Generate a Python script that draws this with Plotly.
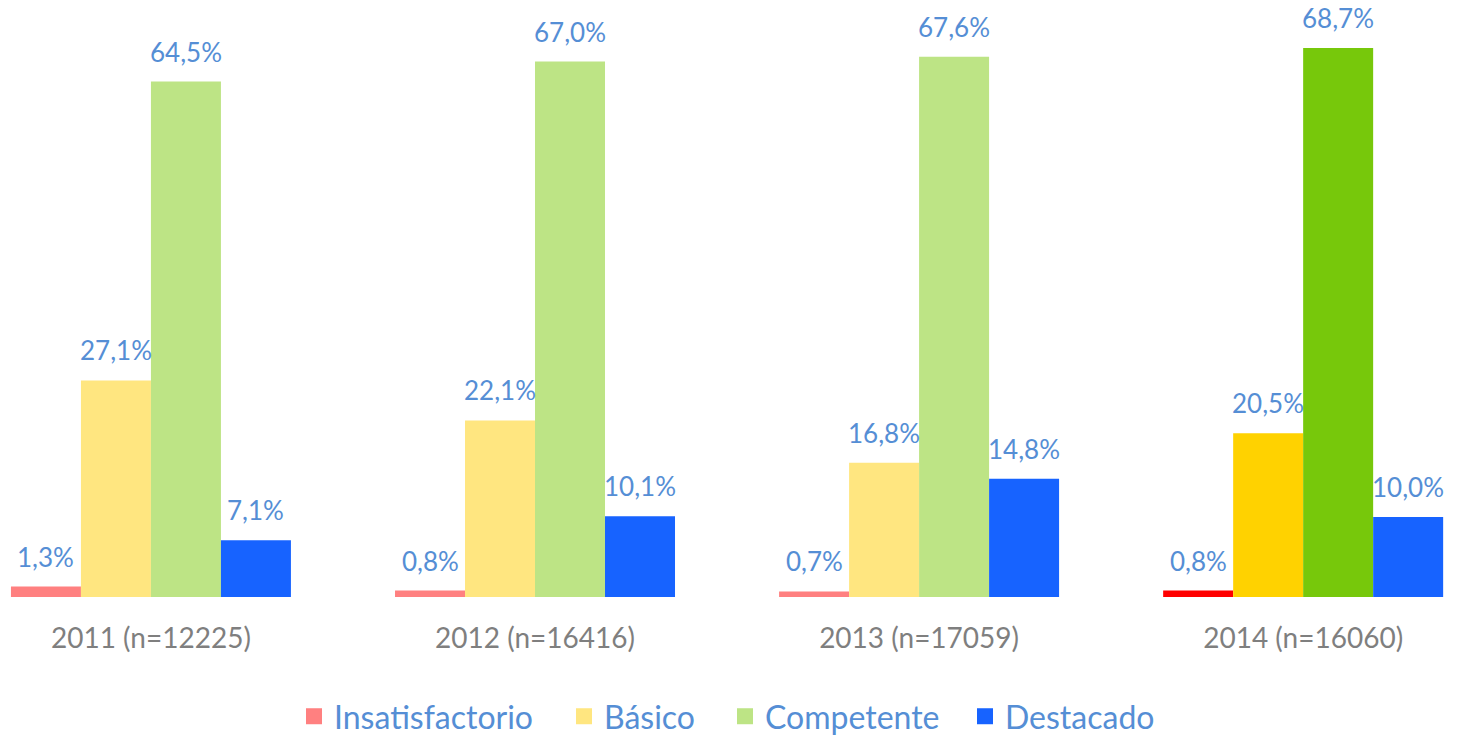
import plotly.graph_objects as go

years = ["2011 (n=12225)", "2012 (n=16416)", "2013 (n=17059)", "2014 (n=16060)"]
series = ["Insatisfactorio", "Básico", "Competente", "Destacado"]
insatisfactorio = [1.3, 0.8, 0.7, 0.8]
basico = [27.1, 22.1, 16.8, 20.5]
competente = [64.5, 67.0, 67.6, 68.7]
destacado = [7.1, 10.1, 14.8, 10.0]
values = [insatisfactorio, basico, competente, destacado]

# light colours for 2011-2013, stronger ones for 2014
colors = [
    ["#FF8080"] * 3 + ["#FF0000"],
    ["#FFE680"] * 3 + ["#FFD200"],
    ["#BDE485"] * 3 + ["#77C80B"],
    ["#1763FF"] * 4,
]

label_color = "#558ED5"
font_family = "Lato, Open Sans, sans-serif"

fig = go.Figure()
for name, vals, cols in zip(series, values, colors):
    fig.add_trace(go.Bar(
        x=years, y=vals, name=name, showlegend=False,
        marker=dict(color=cols, line=dict(width=0)),
    ))

# one legend per series so the entries can be spaced like the original
legend_x = [294, 564, 725, 965]
legend_names = ["legend", "legend2", "legend3", "legend4"]
for name, cols, lg in zip(series, colors, legend_names):
    fig.add_trace(go.Scatter(
        x=[None], y=[None], mode="markers", name=name, legend=lg,
        marker=dict(symbol="square", size=19, color=cols[0]),
    ))

# value labels above each bar
bar_px = 70
for i, vals in enumerate(values):
    for year, v in zip(years, vals):
        fig.add_annotation(
            x=year, y=v, text=f"{v:.1f}%".replace(".", ","),
            xshift=(i - 1.5) * bar_px, yshift=12,
            yanchor="bottom", showarrow=False,
            font=dict(size=26, color=label_color, family=font_family),
        )

W, H = 1466, 735
legend_style = dict(
    orientation="h", y=-0.207, yanchor="middle", xanchor="left",
    font=dict(size=32, color=label_color, family=font_family),
    itemwidth=30, bgcolor="rgba(0,0,0,0)",
)
fig.update_layout(
    width=W, height=H,
    margin=dict(l=0, r=0, t=20, b=138, autoexpand=False),
    paper_bgcolor="white", plot_bgcolor="white",
    barmode="group", bargap=0.271, bargroupgap=0,
    font=dict(family=font_family),
    **{lg: dict(legend_style, x=lx / W) for lg, lx in zip(legend_names, legend_x)},
)
fig.update_xaxes(
    type="category", range=[-0.393, 3.424],
    showgrid=False, showline=False, ticks="",
    ticklabelstandoff=22,
    tickfont=dict(size=28, color="#7F7F7F", family=font_family),
)
fig.update_yaxes(range=[0, 72.2], visible=False)

# drop the default page margin so the figure fills the window
fig.write_html(
    "out.html",
    config={"displayModeBar": False},
    post_script="document.body.style.margin='0px';",
)
